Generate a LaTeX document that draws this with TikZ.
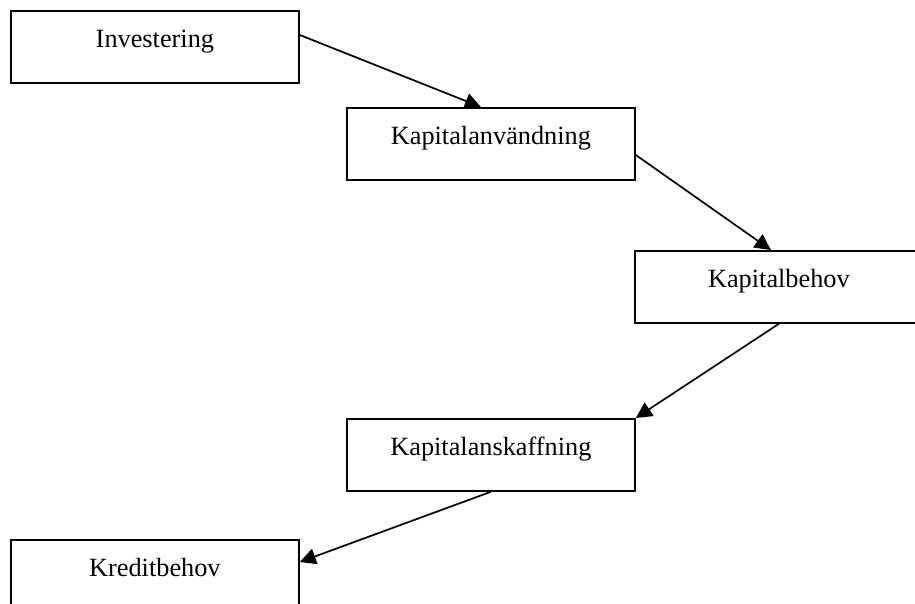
\documentclass[tikz,border=0pt]{standalone}
\usepackage{fontspec}
\setmainfont{Liberation Serif}
\usetikzlibrary{arrows.meta}
\begin{document}
\begin{tikzpicture}[x=1pt,y=-1pt,
  stagebox/.style={draw, line width=1.8pt, rectangle, minimum width=288pt,
    inner xsep=0pt, inner ysep=0pt, text height=37pt, text depth=35pt,
    font=\fontsize{26.3}{30}\selectfont, anchor=north west},
  flow/.style={line width=1.7pt, -{Triangle[length=16pt,width=16pt]}}]
\useasboundingbox (0,0) rectangle (915,604);
\node[stagebox] (inv)  at (10,10)   {Investering};
\node[stagebox] (anv)  at (346,107) {Kapitalanvändning};
\node[stagebox] (beh)  at (634,250) {Kapitalbehov};
\node[stagebox] (kaf)  at (346,418) {Kapitalanskaffning};
\node[stagebox] (kred) at (10,539)  {Kreditbehov};
\draw[flow] ([yshift=-25pt]inv.north east) -- ([xshift=-10pt]anv.north);
\draw[flow] ([yshift=-48pt]anv.north east) -- ([xshift=-8pt]beh.north);
\draw[flow] (beh.south) -- (kaf.north east);
\draw[flow] (kaf.south) -- ([yshift=-23pt]kred.north east);
\end{tikzpicture}
\end{document}
